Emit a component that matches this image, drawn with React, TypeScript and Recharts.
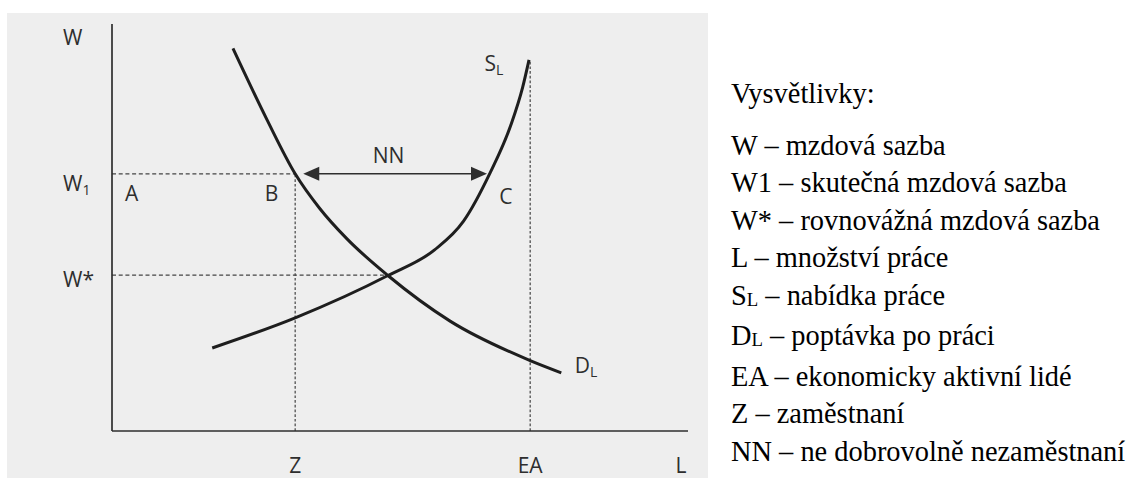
import { ComposedChart, Line, XAxis, YAxis, ReferenceLine, Scatter } from 'recharts';

// ─── Data (axes 0–100) ────────────────────────────────────────────────────────

const Z = 31.8;        // zaměstnaní
const EA = 72.6;       // ekonomicky aktivní
const W1 = 63.2;       // skutečná mzda
const W_STAR = 38.3;   // rovnovážná mzda
const EQ_X = 47.9;     // průsečík S a D

const demand = [
  { x: 21.0, y: 94.0 },
  { x: 26.9, y: 76.5 },
  { x: 31.8, y: 63.2 },
  { x: 36.0, y: 54.8 },
  { x: 40.8, y: 47.2 },
  { x: 47.9, y: 38.2 },
  { x: 58.7, y: 27.0 },
  { x: 72.6, y: 17.3 },
  { x: 78.0, y: 14.3 },
];

const supply = [
  { x: 17.4, y: 20.4 },
  { x: 31.8, y: 27.8 },
  { x: 47.9, y: 38.2 },
  { x: 56.0, y: 44.5 },
  { x: 61.0, y: 51.5 },
  { x: 65.6, y: 63.3 },
  { x: 69.2, y: 75.0 },
  { x: 71.3, y: 84.5 },
  { x: 72.4, y: 91.2 },
];

const xTicks = [Z, EA, 98.8];
const xTickLabels = ['Z', 'EA', 'L'];
const yTicks = [W_STAR, W1, 96.8];
const yTickLabels = ['W*', 'W_1', 'W'];

const pointLabels = [
  { x: 3.4, y: 58.4, text: 'A' },
  { x: 27.7, y: 58.4, text: 'B' },
  { x: 68.4, y: 57.7, text: 'C' },
  { x: 48.0, y: 67.8, text: 'NN' },
  { x: 66.3, y: 90.4, text: 'S_L' },
  { x: 82.3, y: 16.2, text: 'D_L' },
];

const nnArrow = { from: 33.2, to: 65.1 };

const legendTitle = 'Vysvětlivky:';
const legendRows = [
  ['W', '', 'mzdová sazba'],
  ['W1', '', 'skutečná mzdová sazba'],
  ['W*', '', 'rovnovážná mzdová sazba'],
  ['L', '', 'množství práce'],
  ['S', 'L', 'nabídka práce'],
  ['D', 'L', 'poptávka po práci'],
  ['EA', '', 'ekonomicky aktivní lidé'],
  ['Z', '', 'zaměstnaní'],
  ['NN', '', 'ne dobrovolně nezaměstnaní'],
];

// ─── Styles ───────────────────────────────────────────────────────────────────

const INK = '#2e2e2e';
const FONT = '"Open Sans", sans-serif';
const FS = 21;

function SubText({ x, y, text, anchor }: { x: number; y: number; text: string; anchor: 'start' | 'middle' }) {
  const [base, sub] = text.split('_');
  return (
    <text x={x} y={y} textAnchor={anchor} fontFamily={FONT} fontSize={FS} fill={INK}>
      {base}
      {sub && <tspan fontSize={14} dy={4}>{sub}</tspan>}
    </text>
  );
}

function XTick(props: any) {
  const { x, y, index } = props;
  return <SubText x={x} y={y + 41.5} text={xTickLabels[index]} anchor="middle" />;
}

function YTick(props: any) {
  const { x, y, index } = props;
  const label = yTickLabels[index];
  // popisky mezd leží kousek pod čárkovanou čarou
  const dy = label === 'W' ? 0 : label === 'W_1' ? 10 : 4;
  return <SubText x={x - 49} y={y + dy + 7.5} text={label} anchor="start" />;
}

function PointLabel(props: any) {
  const { cx, cy, payload } = props;
  return <SubText x={cx} y={cy + 7.5} text={payload.text} anchor="middle" />;
}

function DoubleArrow(props: any) {
  const { x1, y1, x2 } = props;
  const len = 16;
  const half = 7;
  return (
    <g>
      <line x1={x1 + len - 2} y1={y1} x2={x2 - len + 2} y2={y1} stroke={INK} strokeWidth={1.4} />
      <polygon points={`${x1},${y1} ${x1 + len},${y1 - half} ${x1 + len},${y1 + half}`} fill={INK} />
      <polygon points={`${x2},${y1} ${x2 - len},${y1 - half} ${x2 - len},${y1 + half}`} fill={INK} />
    </g>
  );
}

// ─── Component ────────────────────────────────────────────────────────────────

export default function App() {
  return (
    <div style={{ position: 'absolute', left: 0, top: 0, width: 1138, height: 478, background: '#fff' }}>
      <div style={{ position: 'absolute', left: 7, top: 13, width: 701, height: 465, background: '#eeeeee' }}>
        <ComposedChart width={701} height={465} margin={{ top: 11, right: 20, left: 0, bottom: 0 }}>
          <XAxis
            type="number"
            dataKey="x"
            domain={[0, 100]}
            ticks={xTicks}
            allowDataOverflow
            height={47}
            tickSize={0}
            tickMargin={0}
            tickLine={false}
            axisLine={{ stroke: INK, strokeWidth: 1.7 }}
            tick={<XTick />}
          />
          <YAxis
            type="number"
            dataKey="y"
            domain={[0, 100]}
            ticks={yTicks}
            allowDataOverflow
            width={105}
            tickSize={0}
            tickMargin={0}
            tickLine={false}
            axisLine={{ stroke: INK, strokeWidth: 1.7 }}
            tick={<YTick />}
          />

          <ReferenceLine segment={[{ x: 0, y: W1 }, { x: Z, y: W1 }]} stroke="#444" strokeWidth={1.2} strokeDasharray="4 2.7" />
          <ReferenceLine segment={[{ x: 0, y: W_STAR }, { x: EQ_X, y: W_STAR }]} stroke="#444" strokeWidth={1.2} strokeDasharray="4 2.7" />
          <ReferenceLine segment={[{ x: Z, y: 0 }, { x: Z, y: W1 }]} stroke="#444" strokeWidth={1.2} strokeDasharray="2.7 2" />
          <ReferenceLine segment={[{ x: EA, y: 0 }, { x: EA, y: 90.8 }]} stroke="#444" strokeWidth={1.2} strokeDasharray="2.7 2" />

          <Line data={demand} dataKey="y" type="monotone" dot={false} stroke="#1e1e1e" strokeWidth={3} isAnimationActive={false} />
          <Line data={supply} dataKey="y" type="monotone" dot={false} stroke="#1e1e1e" strokeWidth={3} isAnimationActive={false} />

          <ReferenceLine segment={[{ x: nnArrow.from, y: W1 }, { x: nnArrow.to, y: W1 }]} shape={DoubleArrow} />

          <Scatter data={pointLabels} dataKey="y" shape={PointLabel} isAnimationActive={false} />
        </ComposedChart>
      </div>

      <div
        style={{
          position: 'absolute',
          left: 731,
          top: 74.6,
          fontFamily: '"Liberation Serif", "Times New Roman", serif',
          fontSize: 28.4,
          lineHeight: '37.5px',
          color: '#000',
          whiteSpace: 'nowrap',
        }}
      >
        <div style={{ marginBottom: 14.5 }}>{legendTitle}</div>
        {legendRows.map(([sym, sub, desc]) => (
          <div key={sym + sub}>
            {sym}
            {sub && <span style={{ fontSize: '0.66em', position: 'relative', top: 1 }}>{sub}</span>}
            {' – '}
            {desc}
          </div>
        ))}
      </div>
    </div>
  );
}
